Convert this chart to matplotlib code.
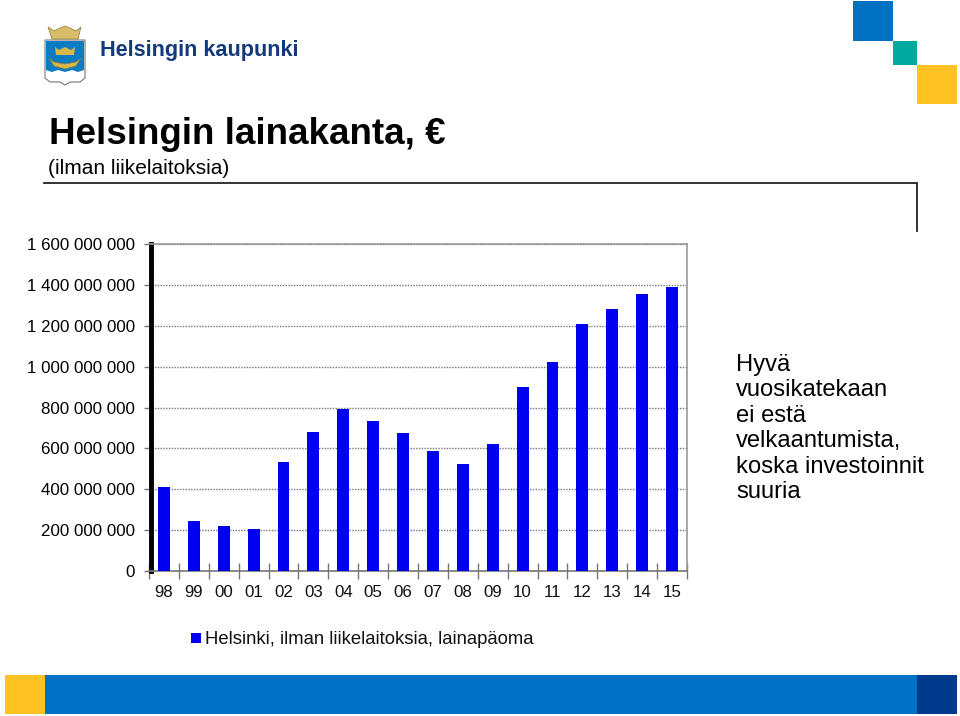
import matplotlib
matplotlib.use('Agg')
import matplotlib.pyplot as plt
from matplotlib.patches import Rectangle, Polygon

years = ['98', '99', '00', '01', '02', '03', '04', '05', '06', '07', '08', '09', '10', '11', '12', '13', '14', '15']
lainapaoma = [411e6, 245e6, 222e6, 205e6, 535e6, 678e6, 795e6, 733e6, 675e6, 587e6, 523e6, 621e6,
              900e6, 1022e6, 1210e6, 1284e6, 1355e6, 1392e6]
yticks = [0, 200e6, 400e6, 600e6, 800e6, 1000e6, 1200e6, 1400e6, 1600e6]
yminor = [100e6, 300e6, 500e6, 700e6, 900e6, 1100e6, 1300e6, 1500e6]
ylabels = ['0', '200 000 000', '400 000 000', '600 000 000', '800 000 000',
           '1 000 000 000', '1 200 000 000', '1 400 000 000', '1 600 000 000']
side_text = ['Hyvä', 'vuosikatekaan', 'ei estä', 'velkaantumista,', 'koska investoinnit', 'suuria']

W, H = 960, 716
plt.rcParams['font.family'] = ['Liberation Sans', 'DejaVu Sans']

fig = plt.figure(figsize=(W / 100, H / 100), dpi=100, facecolor='white')

# whole slide in pixel coords for the decoration
bg = fig.add_axes([0, 0, 1, 1])
bg.set_xlim(0, W)
bg.set_ylim(H, 0)
bg.axis('off')

def box(x0, y0, x1, y1, c):
    bg.add_patch(Rectangle((x0, y0), x1 - x0, y1 - y0, facecolor=c, edgecolor='none'))

# corner squares
box(853, 1, 893, 41, '#0070C0')
box(893, 41, 917, 65, '#00A99D')
box(917, 65, 957, 104, '#FFC222')

# bottom band
box(5, 675, 45, 714, '#FFC222')
box(45, 675, 917, 714, '#0072C6')
box(917, 675, 957, 714, '#003A8C')

# header line
bg.plot([44, 917, 917], [183, 183, 231], color='#222222', lw=1.3, solid_joinstyle='miter')

# coat of arms, rough
bg.add_patch(Polygon([(45, 40), (85, 40), (85, 78), (80, 82), (70, 82), (65, 85), (60, 82), (50, 82), (45, 78)],
                     facecolor='white', edgecolor='#777777', lw=0.8))
bg.add_patch(Polygon([(46, 41), (84, 41), (84, 70), (78, 72), (72, 70), (65, 72), (58, 70), (52, 72), (46, 70)],
                     facecolor='#0A7CC4', edgecolor='none'))
bg.add_patch(Polygon([(49, 58), (54, 66), (65, 69), (76, 66), (81, 58), (76, 62), (65, 64), (54, 62)],
                     facecolor='#D9B84A', edgecolor='#8A7A30', lw=0.5))
bg.add_patch(Polygon([(55, 47), (59, 50), (65, 47), (71, 50), (75, 47), (74, 55), (56, 55)],
                     facecolor='#D9B84A', edgecolor='none'))
bg.add_patch(Polygon([(48, 27), (54, 31), (60, 28), (65, 26), (70, 28), (76, 31), (81, 27), (78, 39), (52, 39)],
                     facecolor='#D9BE6A', edgecolor='#8A7A30', lw=0.5))

bg.text(100, 50.5, 'Helsingin kaupunki', fontsize=15.6, fontweight='bold', color='#123A7C', va='center', ha='left')
bg.text(49, 134, 'Helsingin lainakanta, €', fontsize=26.5, fontweight='bold', color='black', va='center', ha='left')
bg.text(48, 168, '(ilman liikelaitoksia)', fontsize=15, color='black', va='center', ha='left')

for i, line in enumerate(side_text):
    bg.text(736, 364.5 + i * 25.6, line, fontsize=17.1, color='black', va='center', ha='left')

# chart
ax = fig.add_axes([149 / W, 1 - 571 / H, (687 - 149) / W, (571 - 244) / H])
pos = list(range(len(years)))
ax.bar(pos, lainapaoma, width=0.4, color='#0000F0', zorder=3)
ax.set_xlim(-0.5, len(years) - 0.5)
ax.set_ylim(0, 1600e6)
ax.set_yticks(yticks)
ax.set_yticklabels(ylabels, color='#111111')
ax.set_yticks(yminor, minor=True)
ax.set_xticks([p - 0.5 for p in pos] + [len(years) - 0.5])
ax.set_xticklabels([])
for p, y in zip(pos, years):
    ax.text(p, -0.0645, y, transform=ax.get_xaxis_transform(), fontsize=12.2, color='#111111', ha='center', va='center')
ax.tick_params(axis='y', length=5, width=1, color='#777777', pad=6.5, labelsize=12.2)
ax.tick_params(axis='y', which='minor', direction='in', length=1.5, width=1, color='#999999')
ax.tick_params(axis='x', direction='inout', length=11, width=1, color='#777777')
ax.grid(axis='y', color='#777777', lw=1, ls=(0, (1, 1)), zorder=1)
ax.spines['top'].set_color('#999999')
ax.spines['right'].set_color('#999999')
ax.spines['bottom'].set_color('#777777')
ax.spines['left'].set_color('black')
ax.spines['left'].set_linewidth(3.5)
ax.spines['left'].set_position(('outward', -1.5))
ax.spines['top'].set_linewidth(1.2)
ax.spines['right'].set_linewidth(1.2)
ax.spines['bottom'].set_linewidth(1.2)

# legend, placed by hand
box(191, 633, 201, 643, '#0000F0')
bg.text(205, 639, 'Helsinki, ilman liikelaitoksia, lainapäoma', fontsize=13.35, color='#111111', va='center', ha='left')

fig.savefig('out.png', dpi=100)
